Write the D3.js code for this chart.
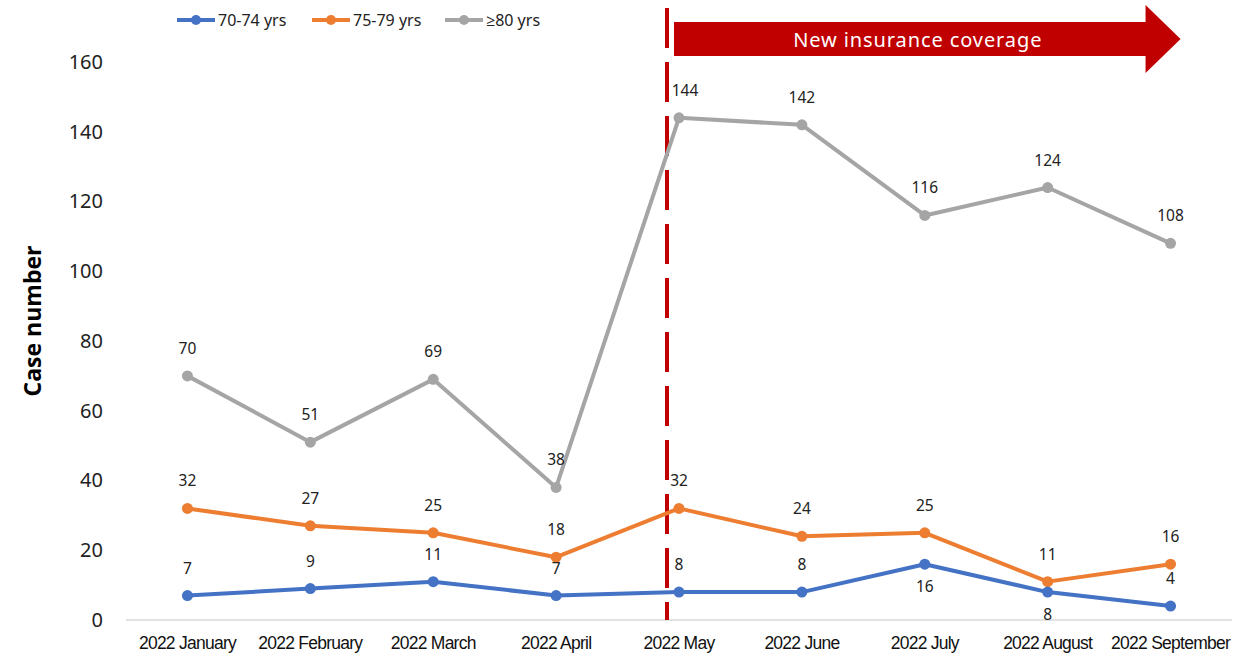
<!DOCTYPE html>
<html>
<head>
<meta charset="utf-8">
<script src="https://cdn.jsdelivr.net/npm/d3@7"></script>
<style>
  html, body { margin: 0; padding: 0; background: #fff; }
  svg { display: block; }
</style>
</head>
<body>
<svg id="chart" width="1239" height="659"></svg>
<script>
// Monthly case counts by age group, 2022
const months = ["2022 January", "2022 February", "2022 March", "2022 April", "2022 May",
                "2022 June", "2022 July", "2022 August", "2022 September"];
const age70to74 = [7, 9, 11, 7, 8, 8, 16, 8, 4];
const age75to79 = [32, 27, 25, 18, 32, 24, 25, 11, 16];
const age80plus = [70, 51, 69, 38, 144, 142, 116, 124, 108];
const seriesNames = ["70-74 yrs", "75-79 yrs", "\u226580 yrs"];
const yTicks = [0, 20, 40, 60, 80, 100, 120, 140, 160];
// labels placed below the point (index list per series)
const below70to74 = [6, 7];
const coverageStart = "2022 May";
const coverageText = "New insurance coverage";

const colors = ["#4472C4", "#ED7D31", "#A5A5A5"];
const red = "#C00000";

const svg = d3.select("#chart");
const margin = { left: 126, right: 7, top: 62, bottom: 39 };
const W = 1239, H = 659;

const x = d3.scaleBand().domain(months).range([margin.left, W - margin.right]).padding(0);
const y = d3.scaleLinear().domain([0, 160]).range([H - margin.bottom, margin.top]);

// baseline
svg.append("line")
  .attr("x1", margin.left).attr("x2", W - margin.right)
  .attr("y1", y(0)).attr("y2", y(0))
  .attr("stroke", "#D9D9D9").attr("stroke-width", 1.5);

// y axis tick labels
const yAxis = d3.axisLeft(y).tickValues(yTicks).tickSize(0).tickPadding(0);
const gy = svg.append("g").attr("transform", `translate(103,0)`).call(yAxis);
gy.select(".domain").remove();
gy.selectAll("text")
  .attr("font-family", "'Noto Sans', 'Open Sans', sans-serif")
  .attr("font-size", 20).attr("fill", "#222");

// x axis labels
const xAxis = d3.axisBottom(x).tickSize(0).tickPadding(0);
const gx = svg.append("g").attr("transform", `translate(0,${y(0) + 17})`).call(xAxis);
gx.select(".domain").remove();
gx.selectAll("text")
  .attr("font-family", "'Liberation Sans', Arial, sans-serif")
  .attr("font-size", 17.5).attr("fill", "#111")
  .attr("letter-spacing", -0.75);

// y axis title
svg.append("text")
  .attr("transform", `translate(41,321) rotate(-90)`)
  .attr("text-anchor", "middle")
  .attr("font-family", "'Open Sans', 'Noto Sans', sans-serif")
  .attr("font-weight", "bold").attr("font-size", 23).attr("fill", "#000")
  .text("Case number");

// coverage start marker (dashed vertical line)
const xCov = x(coverageStart) + x.bandwidth() / 2 - 12;
svg.append("line")
  .attr("x1", xCov).attr("x2", xCov)
  .attr("y1", 8).attr("y2", y(0))
  .attr("stroke", red).attr("stroke-width", 4)
  .attr("stroke-dasharray", "40,14");

// coverage arrow
const arrowLeft = xCov + 7, arrowRight = x(months[months.length - 1]) + x.bandwidth() / 2 + 10;
const headW = 35;
const arrowPath = d3.path();
arrowPath.moveTo(arrowLeft, 22);
arrowPath.lineTo(arrowRight - headW, 22);
arrowPath.lineTo(arrowRight - headW, 5);
arrowPath.lineTo(arrowRight, 39);
arrowPath.lineTo(arrowRight - headW, 73);
arrowPath.lineTo(arrowRight - headW, 56);
arrowPath.lineTo(arrowLeft, 56);
arrowPath.closePath();
svg.append("path").attr("d", arrowPath.toString()).attr("fill", red);
svg.append("text")
  .attr("x", (arrowLeft + arrowRight - headW) / 2 + 8).attr("y", 47)
  .attr("text-anchor", "middle")
  .attr("font-family", "'Noto Sans', 'Open Sans', sans-serif")
  .attr("font-size", 20).attr("fill", "#fff")
  .attr("letter-spacing", 0.9)
  .text(coverageText);

// series lines, markers, labels
const allSeries = [age70to74, age75to79, age80plus];
const cx = m => x(m) + x.bandwidth() / 2;
const line = d3.line().x((d, i) => cx(months[i])).y(d => y(d));

// draw grey first so the lower series sit on top
[2, 1, 0].forEach(s => {
  const vals = allSeries[s];
  svg.append("path").datum(vals)
    .attr("d", line).attr("fill", "none")
    .attr("stroke", colors[s]).attr("stroke-width", 4)
    .attr("stroke-linejoin", "round");
  svg.selectAll(null).data(vals).enter().append("circle")
    .attr("cx", (d, i) => cx(months[i])).attr("cy", d => y(d))
    .attr("r", 5.5).attr("fill", colors[s]);
});

allSeries.forEach((vals, s) => {
  svg.selectAll(null).data(vals).enter().append("text")
    .attr("x", (d, i) => cx(months[i]) + (s === 2 && i === 4 ? 6 : 0))
    .attr("y", (d, i) => {
      const isBelow = s === 0 && below70to74.includes(i);
      return isBelow ? y(d) + 28 : y(d) - 22;
    })
    .attr("text-anchor", "middle")
    .attr("font-family", "'Noto Sans', 'Open Sans', sans-serif")
    .attr("font-size", 15.5).attr("fill", "#222")
    .text(d => d);
});

// legend
const legendX = [177, 312, 445];
seriesNames.forEach((name, s) => {
  const g = svg.append("g").attr("transform", `translate(${legendX[s]},20)`);
  g.append("line").attr("x1", 0).attr("x2", 38).attr("y1", 0).attr("y2", 0)
    .attr("stroke", colors[s]).attr("stroke-width", 4);
  g.append("circle").attr("cx", 19).attr("cy", 0).attr("r", 5).attr("fill", colors[s]);
  g.append("text").attr("x", 41).attr("y", 5.5)
    .attr("font-family", "'Noto Sans', 'Open Sans', sans-serif")
    .attr("font-size", 16).attr("fill", "#222")
    .text(name);
});
</script>
</body>
</html>
